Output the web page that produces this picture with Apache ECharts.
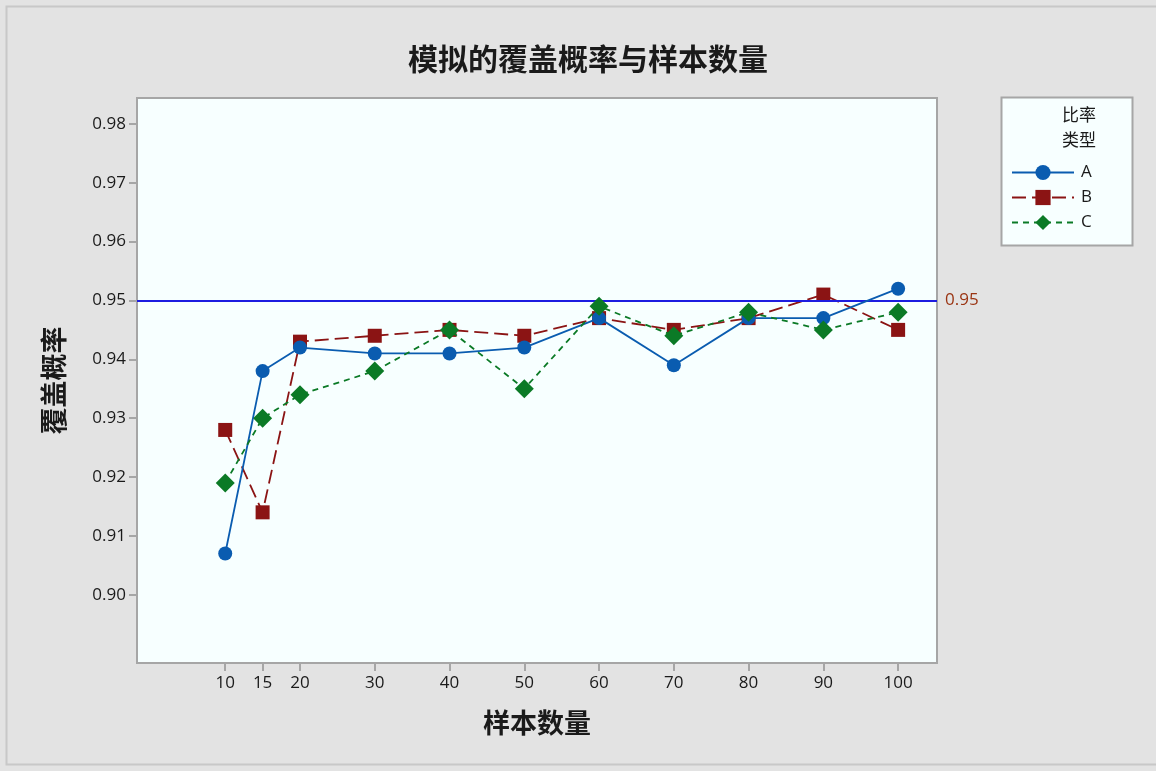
<!DOCTYPE html>
<html>
<head>
<meta charset="utf-8">
<script src="https://cdn.jsdelivr.net/npm/echarts@6/dist/echarts.min.js"></script>
<style>
  html, body { margin: 0; padding: 0; background: #e3e3e3; }
  #chart { width: 1156px; height: 771px; }
</style>
</head>
<body>
<div id="chart"></div>
<script>
// Sample sizes (x positions) and coverage probabilities per ratio type
const sampleSizes = [10, 15, 20, 30, 40, 50, 60, 70, 80, 90, 100];
const seriesA = [0.907, 0.938, 0.942, 0.941, 0.941, 0.942, 0.947, 0.939, 0.947, 0.947, 0.952];
const seriesB = [0.928, 0.914, 0.943, 0.944, 0.945, 0.944, 0.947, 0.945, 0.947, 0.951, 0.945];
const seriesC = [0.919, 0.930, 0.934, 0.938, 0.945, 0.935, 0.949, 0.944, 0.948, 0.945, 0.948];
const yTicks = [0.90, 0.91, 0.92, 0.93, 0.94, 0.95, 0.96, 0.97, 0.98];
const xTicks = [10, 15, 20, 30, 40, 50, 60, 70, 80, 90, 100];
const referenceValue = 0.95;

const cjk = '"Noto Sans CJK SC", "Noto Sans", sans-serif';
const latin = '"Open Sans", "Noto Sans", sans-serif';
const frame = '#a6a6a6';

const pairs = arr => sampleSizes.map((x, i) => [x, arr[i]]);

const chart = echarts.init(document.getElementById('chart'), null, { renderer: 'canvas' });

chart.setOption({
  backgroundColor: '#e3e3e3',
  animation: false,
  title: {
    text: '模拟的覆盖概率与样本数量',
    left: 583, top: 39, textAlign: 'center',
    textStyle: { fontFamily: cjk, fontSize: 30, fontWeight: 'bold', color: '#1a1a1a' }
  },
  graphic: [
    { type: 'rect', z: -10, shape: { x: 6.5, y: 6.5, width: 1160, height: 758 },
      style: { fill: 'none', stroke: '#c8c8c8', lineWidth: 2 } },
    { type: 'rect', z: 1, shape: { x: 1001.5, y: 97.5, width: 131, height: 148 },
      style: { fill: '#f7ffff', stroke: frame, lineWidth: 2 } },
    { type: 'text', z: 2, left: 1062, top: 102,
      style: { text: '比率\n类型', fill: '#1a1a1a', font: '17px ' + cjk, lineHeight: 25 } }
  ],
  grid: {
    left: 137, top: 98, right: 219, bottom: 108,
    show: true, backgroundColor: '#f7ffff', borderColor: frame, borderWidth: 2
  },
  legend: {
    orient: 'vertical', left: 1006, top: 159, itemGap: 8,
    itemWidth: 62, itemHeight: 19,
    textStyle: { fontFamily: latin, fontSize: 17, color: '#1a1a1a', padding: [0, 0, 0, 2] },
    data: ['A', 'B', 'C'], z: 3
  },
  xAxis: {
    type: 'value', min: -1.8, max: 105.2,
    name: '样本数量', nameLocation: 'middle', nameGap: 46,
    nameTextStyle: { fontFamily: cjk, fontSize: 27, fontWeight: 'bold', color: '#1a1a1a' },
    axisLine: { show: true, onZero: false, lineStyle: { color: frame, width: 2 } },
    splitLine: { show: false },
    axisTick: { show: true, inside: false, length: 8, lineStyle: { color: frame, width: 2 }, customValues: xTicks },
    axisLabel: { customValues: xTicks, margin: 12, fontFamily: latin, fontSize: 17, color: '#1a1a1a' }
  },
  yAxis: {
    type: 'value', min: 0.8884, max: 0.9844,
    name: '覆盖概率', nameLocation: 'middle', nameGap: 70, nameRotate: 90,
    nameTextStyle: { fontFamily: cjk, fontSize: 27, fontWeight: 'bold', color: '#1a1a1a' },
    axisLine: { show: true, onZero: false, lineStyle: { color: frame, width: 2 } },
    splitLine: { show: false },
    axisTick: { show: true, inside: false, length: 8, lineStyle: { color: frame, width: 2 }, customValues: yTicks },
    axisLabel: { customValues: yTicks, margin: 11, fontFamily: latin, fontSize: 17, color: '#1a1a1a',
      formatter: v => v.toFixed(2) }
  },
  series: [
    {
      name: 'A', type: 'line', data: pairs(seriesA), z: 5,
      symbol: 'circle', symbolSize: 14,
      itemStyle: { color: '#0a5cb0' },
      lineStyle: { color: '#0a5cb0', width: 1.8, type: 'solid' },
      markLine: {
        silent: true, symbol: 'none',
        lineStyle: { color: '#1c1ce0', width: 2, type: 'solid' },
        label: { position: 'end', distance: 8, formatter: '0.95', color: '#9a3412',
          fontFamily: latin, fontSize: 17 },
        data: [{ yAxis: referenceValue }]
      }
    },
    {
      name: 'B', type: 'line', data: pairs(seriesB), z: 4,
      symbol: 'rect', symbolSize: 14,
      itemStyle: { color: '#8b1414' },
      lineStyle: { color: '#8b1414', width: 1.8, type: [14, 6] }
    },
    {
      name: 'C', type: 'line', data: pairs(seriesC), z: 6,
      symbol: 'diamond', symbolSize: [19, 19],
      itemStyle: { color: '#0b7a26' },
      lineStyle: { color: '#0b7a26', width: 1.8, type: [6, 5] }
    }
  ]
});
</script>
</body>
</html>
